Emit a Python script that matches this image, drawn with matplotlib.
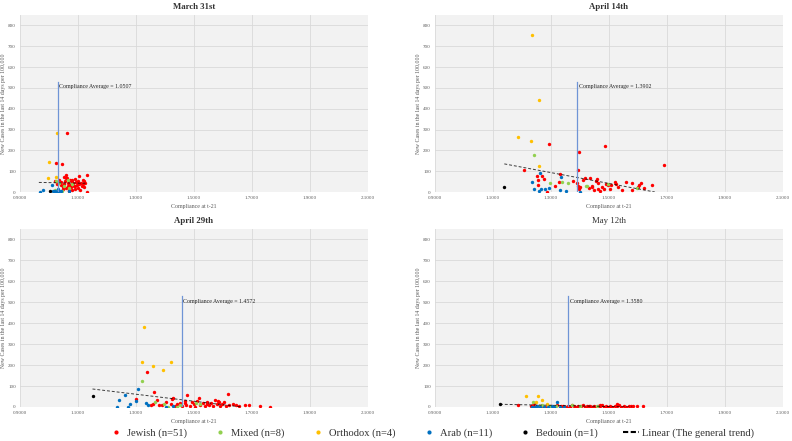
import matplotlib
matplotlib.use("Agg")
import matplotlib.pyplot as plt
from matplotlib.lines import Line2D

# ---------------- data ----------------
titles = ["March 31st", "April 14th", "April 29th", "May 12th"]
avg_labels = ["1.0507", "1.3902", "1.4572", "1.3580"]
avg_line_x = [1.030, 1.3902, 1.4572, 1.3580]
x_ticks = [0.9, 1.1, 1.3, 1.5, 1.7, 1.9, 2.1]
y_ticks = [0, 100, 200, 300, 400, 500, 600, 700, 800]
group_names = ["Jewish (n=51)", "Mixed (n=8)", "Orthodox (n=4)", "Arab (n=11)", "Bedouin (n=1)"]
group_colors = ["#FF0000", "#92D050", "#FFC000", "#0070C0", "#000000"]

# March 31st
mar_jewish_x = [1.063, 1.025, 1.044, 1.060, 1.102, 1.130, 1.131,
                1.022, 1.028, 1.032, 1.036, 1.040, 1.043, 1.047, 1.050, 1.053, 1.056,
                1.058, 1.061, 1.064, 1.066, 1.069, 1.071, 1.074, 1.076, 1.079, 1.081,
                1.084, 1.086, 1.089, 1.091, 1.094, 1.096, 1.099, 1.101, 1.104, 1.107,
                1.110, 1.113, 1.116, 1.119, 1.122, 1.125, 1.034, 1.048, 1.057, 1.068,
                1.078, 1.088, 1.097, 1.118]
mar_jewish_y = [282, 139, 135, 82, 79, 84, 0,
                52, 38, 45, 60, 33, 48, 25, 70, 40, 55, 18, 66, 30, 45, 12, 58, 36, 22,
                50, 8, 42, 28, 62, 15, 47, 35, 20, 55, 40, 10, 45, 30, 38, 52, 25, 42,
                48, 15, 65, 5, 58, 28, 46, 60]
mar_mixed_x = [1.020, 1.025, 1.035, 1.050, 1.065, 1.070, 1.080, 1.045]
mar_mixed_y = [10, 55, 45, 30, 60, 20, 40, 5]
mar_orth_x = [1.028, 0.999, 0.995, 1.023]
mar_orth_y = [285, 142, 68, 70]
mar_arab_x = [0.968, 0.980, 1.010, 1.018, 1.022, 1.026, 1.030, 1.033, 1.040, 1.069, 1.015]
mar_arab_y = [0, 8, 34, 0, 3, 2, 15, 3, 3, 5, 5]
mar_bed_x = [1.002]
mar_bed_y = [6]
mar_trend_x = [0.965, 1.130]
mar_trend_y = [46, 42]

# April 14th
apr14_jewish_x = [1.293, 1.486, 1.395, 1.690, 1.208, 1.392, 1.331, 1.250, 1.268, 1.275,
                  1.256, 1.255, 1.315, 1.328, 1.375, 1.388, 1.392, 1.398, 1.396, 1.416,
                  1.435, 1.430, 1.443, 1.456, 1.459, 1.462, 1.463, 1.470, 1.477, 1.484,
                  1.498, 1.503, 1.507, 1.520, 1.524, 1.560, 1.578, 1.579, 1.605, 1.612,
                  1.621, 1.647, 1.287, 1.400, 1.410, 1.440, 1.450, 1.490, 1.530, 1.545,
                  1.600]
apr14_jewish_y = [232, 223, 192, 132, 105, 106, 87, 79, 79, 61,
                  56, 32, 27, 50, 53, 42, 29, 21, 15, 69,
                  66, 18, 23, 52, 63, 42, 16, 6, 26, 16,
                  32, 13, 35, 47, 40, 48, 42, 10, 32, 44,
                  18, 32, 0, 25, 60, 30, 10, 38, 22, 12,
                  24]
apr14_mixed_x = [1.241, 1.297, 1.338, 1.359, 1.421, 1.497, 1.596, 1.425]
apr14_mixed_y = [176, 42, 50, 44, 27, 40, 21, 30]
apr14_orth_x = [1.233, 1.257, 1.185, 1.232, 1.257]
apr14_orth_y = [752, 444, 263, 247, 127]
apr14_arab_x = [1.262, 1.335, 1.234, 1.243, 1.265, 1.278, 1.292, 1.257, 1.332, 1.350, 1.399]
apr14_arab_y = [90, 72, 48, 16, 16, 13, 21, 5, 11, 5, 0]
apr14_bed_x = [1.139]
apr14_bed_y = [23]
apr14_trend_x = [1.139, 1.658]
apr14_trend_y = [135, 0]

# April 29th
apr29_jewish_x = [1.337, 1.363, 1.300, 1.374, 1.380, 1.403, 1.425, 1.477, 1.616, 1.605,
                  1.517, 1.729, 1.763, 1.675, 1.688, 1.636, 1.572, 1.427, 1.350, 1.360,
                  1.390, 1.420, 1.435, 1.443, 1.452, 1.460, 1.468, 1.473, 1.485, 1.492,
                  1.500, 1.505, 1.512, 1.522, 1.530, 1.538, 1.545, 1.553, 1.560, 1.565,
                  1.578, 1.585, 1.590, 1.598, 1.612, 1.622, 1.645, 1.655, 1.582, 1.545,
                  1.470]
apr29_jewish_y = [166, 72, 38, 33, 11, 24, 38, 57, 62, 25,
                  43, 3, 0, 8, 10, 13, 32, 41, 10, 12,
                  8, 15, 5, 12, 20, 3, 18, 10, 6, 22,
                  14, 2, 27, 10, 18, 5, 15, 9, 20, 3,
                  14, 22, 7, 12, 5, 9, 8, 5, 28, 25,
                  30]
apr29_mixed_x = [1.320, 1.365, 1.396, 1.412, 1.440, 1.508, 1.450, 1.520]
apr29_mixed_y = [126, 22, 16, 0, 0, 19, 8, 12]
apr29_orth_x = [1.328, 1.320, 1.358, 1.419, 1.394]
apr29_orth_y = [382, 215, 196, 214, 175]
apr29_arab_x = [1.306, 1.263, 1.241, 1.300, 1.280, 1.233, 1.274, 1.334, 1.341, 1.403, 1.428]
apr29_arab_y = [84, 56, 33, 27, 16, 0, 0, 19, 11, 0, 3]
apr29_bed_x = [1.150]
apr29_bed_y = [53]
apr29_trend_x = [1.150, 1.665]
apr29_trend_y = [86, 0]

# May 12th
may_jewish_x = [1.240, 1.187, 1.617, 1.596,
                1.232, 1.238, 1.244, 1.250, 1.258, 1.266, 1.280, 1.300, 1.322, 1.335,
                1.342, 1.350, 1.358, 1.365, 1.371, 1.378, 1.385, 1.392, 1.398, 1.404,
                1.410, 1.417, 1.423, 1.430, 1.436, 1.442, 1.448, 1.455, 1.462, 1.468,
                1.475, 1.482, 1.490, 1.497, 1.505, 1.512, 1.520, 1.527, 1.535, 1.543,
                1.552, 1.560, 1.568, 1.575, 1.582, 1.528, 1.470]
may_jewish_y = [19, 10, 3, 3,
                3, 8, 1, 5, 2, 6, 0, 4, 10, 3, 7, 2, 5, 1, 8, 3, 0, 6, 2, 4,
                9, 1, 5, 3, 7, 0, 4, 2, 6, 3, 8, 1, 5, 2, 4, 0, 7, 3, 10, 2,
                5, 1, 6, 3, 4, 12, 9]
may_mixed_x = [1.237, 1.270, 1.295, 1.318, 1.372, 1.260, 1.400, 1.460]
may_mixed_y = [25, 10, 6, 6, 8, 3, 4, 5]
may_orth_x = [1.214, 1.256, 1.269, 1.249, 1.286]
may_orth_y = [51, 53, 32, 22, 14]
may_arab_x = [1.320, 1.235, 1.245, 1.252, 1.262, 1.275, 1.290, 1.305, 1.312, 1.330, 1.345]
may_arab_y = [22, 2, 0, 4, 0, 2, 0, 3, 0, 1, 2]
may_bed_x = [1.124]
may_bed_y = [14]
may_trend_x = [1.124, 1.580]
may_trend_y = [13, 0]

panels = [
    [(mar_jewish_x, mar_jewish_y), (mar_mixed_x, mar_mixed_y), (mar_orth_x, mar_orth_y),
     (mar_arab_x, mar_arab_y), (mar_bed_x, mar_bed_y), (mar_trend_x, mar_trend_y)],
    [(apr14_jewish_x, apr14_jewish_y), (apr14_mixed_x, apr14_mixed_y), (apr14_orth_x, apr14_orth_y),
     (apr14_arab_x, apr14_arab_y), (apr14_bed_x, apr14_bed_y), (apr14_trend_x, apr14_trend_y)],
    [(apr29_jewish_x, apr29_jewish_y), (apr29_mixed_x, apr29_mixed_y), (apr29_orth_x, apr29_orth_y),
     (apr29_arab_x, apr29_arab_y), (apr29_bed_x, apr29_bed_y), (apr29_trend_x, apr29_trend_y)],
    [(may_jewish_x, may_jewish_y), (may_mixed_x, may_mixed_y), (may_orth_x, may_orth_y),
     (may_arab_x, may_arab_y), (may_bed_x, may_bed_y), (may_trend_x, may_trend_y)],
]

# ---------------- plotting ----------------
plt.rcParams['font.family'] = ['Liberation Serif', 'DejaVu Serif']
W, H = 792, 441
fig = plt.figure(figsize=(W / 100, H / 100), dpi=100)
fig.patch.set_facecolor("white")

# axes boxes in pixels: left, top, right, bottom
boxes = [(20, 15, 368, 192), (435, 15, 783, 192), (20, 229, 368, 407), (435, 229, 783, 407)]
title_bold = ["bold", "bold", "bold", "normal"]

for i, (l, t, r, b) in enumerate(boxes):
    ax = fig.add_axes([l / W, 1 - b / H, (r - l) / W, (b - t) / H])
    ax.set_facecolor("#F2F2F2")
    ax.set_xlim(0.9, 2.1)
    ax.set_ylim(0, 850)
    ax.set_xticks(x_ticks)
    ax.set_xticklabels([f"{v:.4f}" for v in x_ticks])
    ax.set_yticks(y_ticks)
    ax.tick_params(axis='both', length=0, labelsize=3.6, colors="#595959", pad=3)
    ax.grid(True, color="#D9D9D9", linewidth=0.6)
    ax.set_axisbelow(True)
    for s in ax.spines.values():
        s.set_visible(False)

    data = panels[i]
    for g in range(5):
        gx, gy = data[g]
        ax.scatter(gx, gy, s=6, color=group_colors[g], marker='o', linewidths=0, zorder=3)
    tx, ty = data[5]
    ax.plot(tx, ty, color="#000000", linestyle=(0, (3, 2)), linewidth=0.7, alpha=0.75, zorder=4)

    ax.plot([avg_line_x[i], avg_line_x[i]], [0, 530], color="#6F94D6", linewidth=0.9, zorder=5)
    ax.text(avg_line_x[i] + 0.006, 505, f"Compliance Average = {avg_labels[i]}",
            fontsize=4.2, color="#222222", va='center', ha='left', zorder=6)

    ax.set_title(titles[i], fontsize=6.3, fontweight=title_bold[i], color="#333333", pad=4)
    ax.set_xlabel("Compliance at t-21", fontsize=4.2, color="#595959", labelpad=3)
    ax.set_ylabel("New Cases in the last 14 days per 100,000", fontsize=4.2, color="#595959", labelpad=1.5)

handles = [Line2D([0], [0], marker='o', linestyle='none', markersize=3.0,
                  markerfacecolor=c, markeredgewidth=0) for c in group_colors]
handles.append(Line2D([0], [0], color='black', linestyle=(0, (2.5, 1.2)), linewidth=1.5))
labels = group_names + ["Linear (The general trend)"]
fig.legend(handles, labels, loc='center', bbox_to_anchor=(431 / W, 1 - 433 / H), ncol=6,
           frameon=False, fontsize=7.6, handlelength=1.5, handletextpad=0.3, columnspacing=2.4,
           labelcolor="#333333")

fig.savefig("out.png", dpi=100)
